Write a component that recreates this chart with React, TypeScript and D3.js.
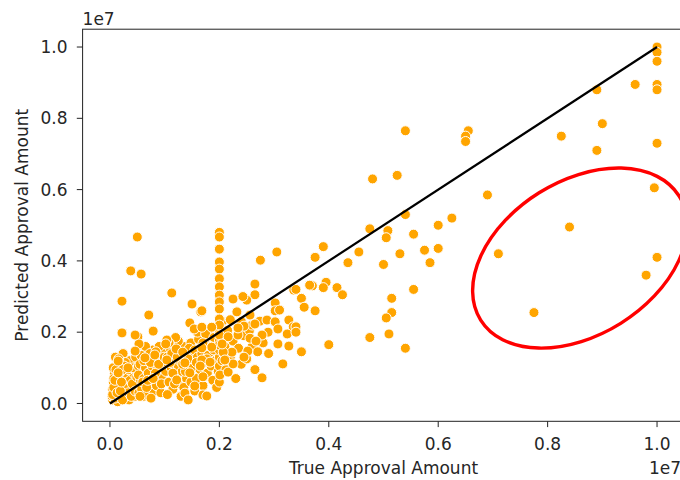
import * as d3 from "d3";
import React from "react";

// values in millions: [true amount, predicted amount]
const denseCluster: [number, number][] = [
  [0.05, 0.1], [0.08, 0.3], [0.1, 0.5], [0.12, 0.2], [0.15, 0.4], [0.18, 0.7], [0.2, 0.15], [0.22, 0.55],
  [0.25, 0.9], [0.28, 0.35], [0.3, 0.6], [0.32, 0.2], [0.35, 0.8], [0.38, 0.45], [0.4, 1.1], [0.42, 0.3],
  [0.45, 0.65], [0.48, 0.95], [0.1, 0.8], [0.12, 1.05], [0.06, 0.6], [0.15, 0.95], [0.2, 1.2], [0.25, 0.25],
  [0.3, 1.0], [0.35, 0.1], [0.4, 0.7], [0.45, 0.2], [0.5, 0.5], [0.05, 0.4], [0.08, 0.85], [0.14, 0.05],
  [0.18, 0.5], [0.22, 0.75], [0.26, 0.45], [0.3, 0.3], [0.33, 0.55], [0.36, 1.2], [0.4, 0.9], [0.44, 0.45],
  [0.47, 1.3], [0.1, 1.3], [0.16, 1.15], [0.24, 1.4], [0.28, 1.15],
  [0.04, 0.2], [0.07, 0.7], [0.09, 0.15], [0.11, 0.38], [0.13, 0.62], [0.17, 0.28], [0.19, 0.9], [0.21, 0.4],
  [0.23, 0.1], [0.27, 0.65], [0.29, 0.85], [0.31, 0.45], [0.34, 0.3], [0.37, 0.65], [0.39, 0.2], [0.41, 0.55],
  [0.43, 0.85], [0.46, 0.35], [0.49, 0.75], [0.53, 0.3], [0.56, 0.65], [0.59, 0.9], [0.61, 0.2], [0.63, 0.5],
  [0.06, 1.0], [0.14, 0.75], [0.26, 1.05], [0.34, 0.95], [0.42, 1.0], [0.52, 1.05], [0.05, 0.25], [0.16, 0.6],
  [0.07, 0.45], [0.09, 0.65], [0.11, 0.95], [0.13, 0.3], [0.17, 0.85], [0.19, 0.35], [0.21, 0.6], [0.23, 0.95],
  [0.52, 0.8], [0.55, 1.1], [0.58, 0.4], [0.6, 1.4], [0.62, 0.7], [0.65, 1.0], [0.68, 0.25], [0.7, 1.25],
  [0.72, 0.55], [0.75, 0.9], [0.78, 1.5], [0.8, 0.35], [0.82, 1.1], [0.85, 0.7], [0.88, 1.3], [0.9, 0.45],
  [0.92, 0.95], [0.95, 1.2], [0.98, 0.6], [1.0, 1.45], [0.55, 0.2], [0.6, 0.6], [0.65, 1.6], [0.7, 0.85],
  [0.75, 0.15], [0.8, 1.25], [0.85, 0.5], [0.9, 1.6], [0.95, 0.8], [0.57, 1.35], [0.67, 0.45], [0.77, 1.05],
  [0.87, 0.95], [0.97, 1.0], [0.62, 1.2], [0.73, 1.4], [0.83, 0.85], [0.93, 0.3],
  [0.69, 0.65], [0.74, 1.15], [0.79, 0.7], [0.84, 1.45], [0.89, 1.1], [0.94, 0.55], [0.99, 1.3],
  [1.02, 0.9], [1.05, 1.3], [1.08, 0.6], [1.1, 1.55], [1.12, 1.0], [1.15, 0.4], [1.18, 1.25], [1.2, 0.75],
  [1.22, 1.5], [1.25, 1.05], [1.28, 0.55], [1.3, 1.35], [1.32, 0.9], [1.35, 1.6], [1.38, 1.2], [1.4, 0.7],
  [1.42, 1.45], [1.45, 1.0], [1.48, 1.7], [1.5, 1.3], [1.05, 0.25], [1.15, 0.85], [1.25, 1.75], [1.35, 0.45],
  [1.45, 1.55], [1.1, 1.15], [1.2, 1.85], [1.3, 0.2], [1.4, 1.05], [1.08, 1.7], [1.18, 0.55], [1.28, 1.2],
  [1.38, 0.9], [1.48, 0.6], [1.13, 1.4], [1.23, 1.3], [1.33, 1.1], [1.43, 1.25],
  [1.52, 1.0], [1.55, 1.5], [1.58, 0.7], [1.6, 1.3], [1.62, 1.8], [1.65, 0.95], [1.68, 1.4], [1.7, 0.5],
  [1.72, 1.15], [1.75, 1.65], [1.78, 0.85], [1.8, 1.35], [1.82, 1.9], [1.85, 1.05], [1.88, 0.65], [1.9, 1.5],
  [1.92, 1.2], [1.95, 1.75], [1.98, 0.9], [2.0, 1.3], [1.55, 0.35], [1.6, 2.0], [1.7, 0.75], [1.75, 1.95],
  [1.85, 1.6], [1.95, 0.45], [1.58, 1.15], [1.77, 1.25], [1.9, 1.85],
  [2.0, 1.05], [2.0, 1.5], [2.0, 1.75], [2.0, 2.0], [2.0, 0.6], [2.05, 1.2], [2.1, 1.6], [2.12, 0.95],
  [2.15, 2.05], [2.2, 1.3], [2.25, 1.75], [2.3, 0.7], [2.35, 1.55], [2.4, 1.1], [2.45, 1.9], [2.5, 1.25],
  [2.55, 2.05], [2.6, 1.6], [2.65, 0.95], [2.7, 1.45], [2.05, 2.3], [2.2, 2.35], [2.4, 2.3], [2.6, 2.2],
  [2.8, 1.7], [2.9, 1.4],
];

const leftSparse: [number, number][] = [
  [0.5, 4.67], [0.38, 3.72], [0.57, 3.63], [1.13, 3.1], [0.22, 2.87], [1.5, 2.79], [1.66, 2.57], [0.71, 2.48],
  [1.46, 2.26], [1.54, 2.09], [0.22, 1.98], [0.79, 2.03], [0.51, 1.87], [0.53, 1.67], [1.04, 1.78], [1.02, 1.67],
  [0.46, 1.47], [1.21, 1.53], [0.16, 1.25], [0.15, 0.86], [0.33, 1.0], [0.64, 1.28], [0.82, 1.36], [1.04, 1.22],
  [1.33, 1.44], [1.37, 1.14], [1.46, 0.86], [1.37, 0.29], [1.43, 0.1], [1.7, 0.24], [1.7, 1.7], [1.68, 2.14],
  [0.15, 1.19], [0.46, 1.92], [1.22, 0.66], [1.55, 0.49],
];

const column2M: [number, number][] = [
  [2.0, 4.8], [2.0, 4.67], [2.0, 4.33], [2.0, 3.97], [2.0, 3.77], [2.0, 3.5], [2.0, 3.27],
  [2.0, 3.04], [2.0, 2.85], [2.0, 2.65], [2.0, 2.37], [2.0, 2.2], [2.0, 1.92], [2.0, 1.64],
];

const midRange: [number, number][] = [
  [2.75, 4.02], [3.05, 4.25], [2.65, 3.35], [2.65, 3.05], [2.25, 2.93], [2.5, 2.9], [2.43, 3.0], [1.68, 2.6],
  [2.32, 2.57], [3.02, 2.82], [3.02, 2.6], [3.1, 2.62], [3.36, 3.18], [2.56, 2.48], [2.74, 2.31], [2.87, 2.34],
  [3.02, 2.29], [3.07, 2.09], [2.89, 2.0], [3.27, 2.34], [3.35, 2.15], [3.24, 1.95], [3.07, 1.67], [3.27, 1.61],
  [3.16, 1.11], [2.78, 0.72], [1.77, 0.21], [1.86, 2.14], [2.45, 2.17], [2.65, 2.23], [2.34, 1.92], [2.56, 1.83],
  [2.78, 1.92], [2.52, 1.47], [2.45, 1.3], [2.23, 1.44], [2.07, 1.44], [2.16, 1.87], [2.05, 1.67], [1.86, 1.58],
  [1.68, 1.56], [1.68, 1.22], [1.83, 1.16], [1.65, 1.05], [2.01, 0.8], [2.16, 0.88], [2.25, 1.11], [2.1, 1.22],
  [2.34, 2.12], [2.67, 1.75],
  [3.9, 4.4], [3.75, 4.1], [4.55, 4.25], [4.35, 3.95], [5.0, 3.9], [3.7, 3.3], [3.95, 3.4], [3.9, 3.25],
  [4.15, 3.25], [4.25, 3.05], [3.4, 3.2], [3.5, 2.95], [3.55, 2.7], [3.75, 2.6], [5.15, 2.95], [5.15, 2.55],
  [5.05, 2.4], [5.1, 1.95], [4.75, 1.85], [3.4, 2.15], [3.4, 2.0], [4.0, 1.65], [3.5, 1.45], [3.65, 3.32],
];

const upperRange: [number, number][] = [
  [10.0, 10.0], [10.0, 9.85], [10.0, 9.6], [10.0, 8.95], [10.0, 8.8], [9.6, 8.95], [8.9, 8.8], [9.0, 7.85],
  [8.25, 7.5], [8.9, 7.1], [10.0, 7.3], [6.55, 7.65], [6.5, 7.5], [6.5, 7.35], [6.9, 5.85], [9.95, 6.05],
  [6.25, 5.2], [7.1, 4.2], [8.4, 4.95], [10.0, 4.1], [9.8, 3.6], [7.75, 2.55], [6.0, 5.0], [6.0, 4.35],
  [5.75, 4.3], [5.85, 3.95], [5.55, 4.75], [5.55, 3.2], [5.4, 7.65], [5.25, 6.4], [5.4, 5.3], [5.4, 1.55],
  [4.8, 6.3], [4.75, 4.9], [5.08, 4.85], [5.05, 4.65], [5.3, 4.2],
];

const tickValues = [0, 2, 4, 6, 8, 10];
const tickLabels = ["0.0", "0.2", "0.4", "0.6", "0.8", "1.0"];
const identityLine: [number, number][] = [[0, 0], [10, 10]];
const ellipseCenter: [number, number] = [8.59, 4.08];

const WIDTH = 680;
const HEIGHT = 480;
const FONT = "'DejaVu Sans', sans-serif";
const TEXT = "#262626";
const FS = 17;

export default function App() {
  const x = d3.scaleLinear().domain([-0.5, 10.5]).range([82.6, 684.4]);
  const y = d3.scaleLinear().domain([-0.5, 10.5]).range([421.3, 29.2]);
  const [x0, x1] = x.range();
  const [y0, y1] = y.range();

  const allPoints = [...denseCluster, ...leftSparse, ...column2M, ...midRange, ...upperRange];
  const line = d3.line<[number, number]>().x((d) => x(d[0])).y((d) => y(d[1]));

  return (
    <svg
      width={WIDTH}
      height={HEIGHT}
      style={{ position: "absolute", left: 0, top: 0, background: "#fff" }}
      fontFamily={FONT}
    >
      {allPoints.map((d, i) => (
        <circle key={i} cx={x(d[0])} cy={y(d[1])} r={5} fill="#FFA500" stroke="#fff" strokeWidth={1} />
      ))}
      <path d={line(identityLine) || ""} stroke="#000" strokeWidth={2.2} fill="none" />

      {/* spines */}
      <rect x={x0} y={y1} width={x1 - x0} height={y0 - y1} fill="none" stroke="#222" strokeWidth={1} />

      {/* x axis */}
      {tickValues.map((t, i) => (
        <g key={"x" + i} transform={`translate(${x(t)},${y0})`}>
          <line y2={5.8} stroke="#222" strokeWidth={1} />
          <text y={29} textAnchor="middle" fontSize={FS} fill={TEXT}>{tickLabels[i]}</text>
        </g>
      ))}
      {/* y axis */}
      {tickValues.map((t, i) => (
        <g key={"y" + i} transform={`translate(${x0},${y(t)})`}>
          <line x2={-5.8} stroke="#222" strokeWidth={1} />
          <text x={-15} dy="0.36em" textAnchor="end" fontSize={FS} fill={TEXT}>{tickLabels[i]}</text>
        </g>
      ))}

      <text x={x0} y={y1 - 4} fontSize={FS} fill={TEXT}>1e7</text>
      <text x={681} y={474} textAnchor="end" fontSize={FS} fill={TEXT}>1e7</text>
      <text x={(x0 + x1) / 2} y={474} textAnchor="middle" fontSize={FS} fill={TEXT}>True Approval Amount</text>
      <text
        transform={`translate(27.5,${(y0 + y1) / 2}) rotate(-90)`}
        textAnchor="middle"
        fontSize={FS}
        fill={TEXT}
      >
        Predicted Approval Amount
      </text>

      <ellipse
        cx={x(ellipseCenter[0])}
        cy={y(ellipseCenter[1])}
        rx={117}
        ry={77}
        transform={`rotate(-32,${x(ellipseCenter[0])},${y(ellipseCenter[1])})`}
        fill="none"
        stroke="#ff0000"
        strokeWidth={3.4}
      />
    </svg>
  );
}
